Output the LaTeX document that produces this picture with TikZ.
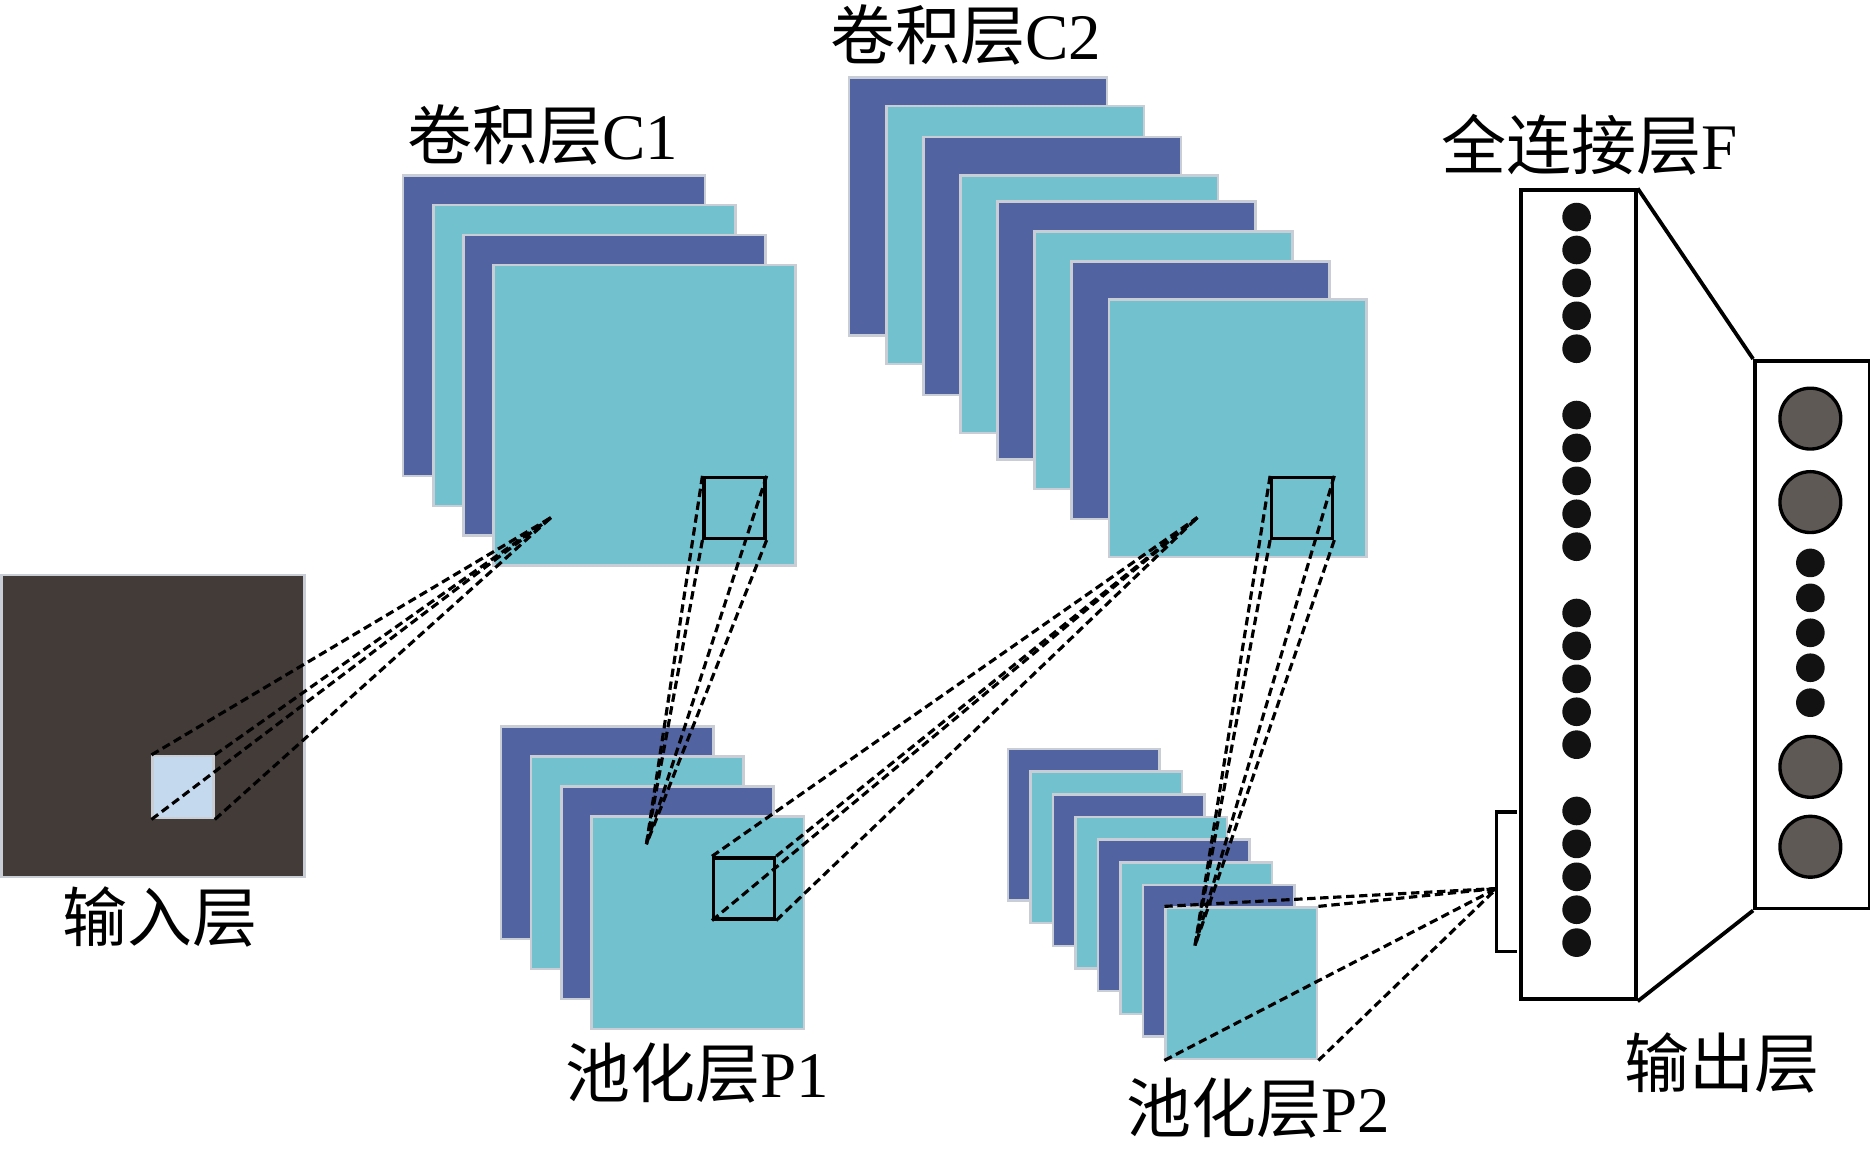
\documentclass[tikz,border=0pt]{standalone}
\usepackage{fontspec}
\setmainfont{Liberation Serif}
\newfontfamily\cjk{Noto Sans CJK SC}
\definecolor{mapblue}{HTML}{5163A0}
\definecolor{mapcyan}{HTML}{72C1CE}
\definecolor{mapedge}{HTML}{C9CDD5}
\definecolor{inputbg}{HTML}{433B38}
\definecolor{patchbg}{HTML}{C4D8EE}
\definecolor{outgray}{HTML}{5E5955}

\begin{document}
\begin{tikzpicture}[x=0.01cm, y=-0.01cm,
  fmap/.style={draw=mapedge, line width=0.6pt, inner sep=0pt, anchor=north west},
  kern/.style={draw, line width=0.8pt, inner sep=0pt, minimum size=0.51cm, anchor=north west},
  link/.style={dash pattern=on 2pt off 1.1pt, line width=0.75pt},
  layer/.style={draw, line width=0.9pt, inner sep=0pt, minimum width=0.96cm, anchor=north west},
  lbl/.style={font=\fontsize{15.5}{18}\selectfont},
  fdot/.style={circle, fill=black!93, inner sep=0pt, minimum size=0.24cm},
  odot/.style={circle, draw, fill=outgray, line width=0.8pt, inner sep=0pt, minimum size=0.51cm}]
\useasboundingbox (0,0) rectangle (1568,963);

% input
\node[fmap, fill=inputbg, minimum width=2.54cm, minimum height=2.53cm] (inp) at (0,481) {};
\node[fmap, fill=patchbg, minimum width=0.51cm, minimum height=0.52cm] (patch) at (127,633) {};
\node[lbl] (inlbl) at (134,769) {\cjk 输入层};

% conv C1
\foreach \i/\c in {0/mapblue,1/mapcyan,2/mapblue,3/mapcyan}
  \node[fmap, fill=\c, minimum width=2.53cm, minimum height=2.52cm] (c1\i) at (337+25.3*\i,146+25*\i) {};
\node[lbl] (c1lbl) at (455,113) {{\cjk 卷积层}C1};

% conv C2
\foreach \i/\t/\c in {0/64/mapblue,1/88/mapcyan,2/114/mapblue,3/146/mapcyan,4/168/mapblue,5/193/mapcyan,6/218/mapblue,7/250/mapcyan}
  \node[fmap, fill=\c, minimum size=2.16cm] (c2\i) at (711+31.1*\i,\t) {};
\node[lbl] (c2lbl) at (810,29) {{\cjk 卷积层}C2};

% pool P1
\foreach \i/\c in {0/mapblue,1/mapcyan,2/mapblue,3/mapcyan}
  \node[fmap, fill=\c, minimum size=1.78cm] (p1\i) at (419+25.3*\i,608+25.2*\i) {};
\node[lbl] (p1lbl) at (585,900) {{\cjk 池化层}P1};

% pool P2
\foreach \i/\c in {0/mapblue,1/mapcyan,2/mapblue,3/mapcyan,4/mapblue,5/mapcyan,6/mapblue,7/mapcyan}
  \node[fmap, fill=\c, minimum size=1.27cm] (p2\i) at (844+18.9*\i,627+19*\i) {};
\node[lbl] (p2lbl) at (1055,929) {{\cjk 池化层}P2};

% kernels
\node[kern] (k1) at (589,399) {};
\node[kern] (k2) at (597,718) {};
\node[kern] (k3) at (1065,399) {};

\coordinate (a1) at (462,434);
\coordinate (a2) at (542,708);
\coordinate (a3) at (1004,434);
\coordinate (a4) at (1002,793);
\coordinate (bm) at (1255,745);

% receptive fields
\foreach \p in {north west,north east,south west,south east} {
  \draw[link] (patch.\p) -- (a1);
  \draw[link] (k1.\p) -- (a2);
  \draw[link] (k2.\p) -- (a3);
  \draw[link] (k3.\p) -- (a4);
  \draw[link] (p27.\p) -- (bm);
}

% fully connected + output
\node[layer, minimum height=6.78cm] (fc) at (1274,158) {};
\node[layer, minimum height=4.59cm] (out) at (1470,301) {};
\draw[line width=0.9pt] (fc.north east) -- (out.north west);
\draw[line width=0.9pt] (fc.south east) -- (out.south west);
\node[lbl] (flbl) at (1333,121) {{\cjk 全连接层}F};
\node[lbl] (outlbl) at (1444,891) {\cjk 输出层};

\foreach \g in {0,...,3}
  \foreach \j in {0,...,4}
    \node[fdot] (f\g\j) at (1322,182+166*\g+27.6*\j) {};

\foreach \y [count=\n] in {351,421,643,710}
  \node[odot] (o\n) at (1518,\y) {};
\foreach \j in {0,...,4}
  \node[fdot] (s\j) at (1518,472+29.3*\j) {};

% bracket
\coordinate (b1) at (1272,681);
\coordinate (b2) at (1272,798);
\draw[line width=0.8pt] (b1) -- (1255,681) -- (1255,798) -- (b2);
\end{tikzpicture}
\end{document}
